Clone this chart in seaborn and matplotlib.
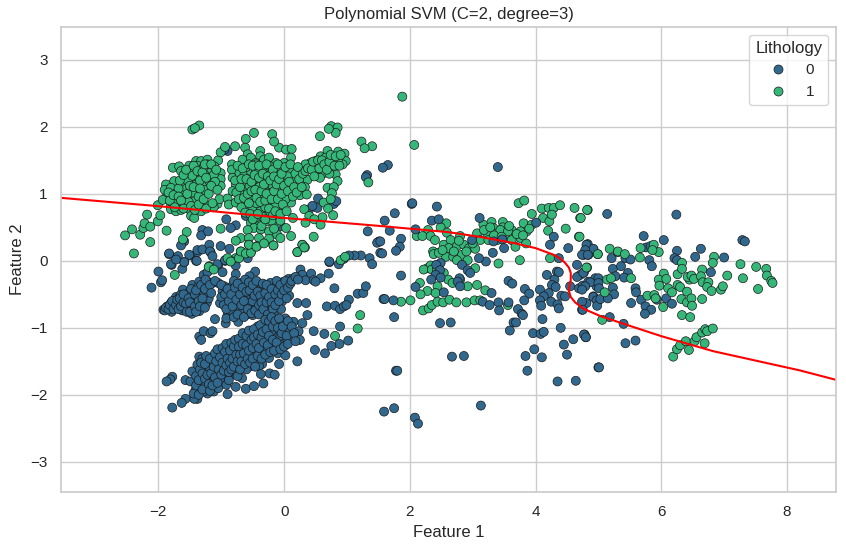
import matplotlib
matplotlib.use("Agg")
import matplotlib.pyplot as plt
import pandas as pd
import seaborn as sns

# --- Lithology 0 (blue) ---
blue_upper_band = [
(-2.0,-0.16),(-2.11,-0.40),(-1.96,-0.32),(-1.94,-0.29),(-1.83,0.10),(-1.79,-0.06),(-1.71,0.04),(-1.62,-0.12),(-1.59,-0.02),(-1.50,0.08),
(-1.40,0),(-1.38,0.13),(-1.17,0.13),(-1.05,-0.07),(-0.98,-0.17),(-0.94,0),(-0.77,-0.07),(-0.77,-0.20),(-0.46,-0.16),(-0.55,-0.23),
(-1.92,-0.73),(-1.90,-0.74),(-1.86,-0.68),(-1.80,-0.63),(-1.72,-0.54),(-1.61,-0.43),(-1.46,-0.36),(-1.35,-0.31),(-1.28,-0.21),(-1.22,-0.17),
(-1.79,-0.76),(-1.67,-0.63),(-1.57,-0.71),(-1.47,-0.79),(-1.35,-0.75),(-1.54,-0.61),(-1.40,-0.63),(-1.23,-0.63),(-1.20,-0.56),(-1.35,-0.53),
(-1.46,-0.51),(-1.57,-0.56),(-1.65,-0.51),(-1.46,-0.46),(-1.33,-0.43),(-1.22,-0.43),(-1.14,-0.33),(-1.05,-0.33),(-1.22,-0.31),(-1.75,-0.69),
(-1.62,-0.74),(-1.50,-0.70),(-1.44,-0.58),(-1.30,-0.66),(-1.28,-0.50),(-1.52,-0.48),(-1.38,-0.40),(-1.70,-0.62),(-1.45,-0.74),(-1.30,-0.36),
(-1.02,-0.63),(-0.90,-0.56),(-0.83,-0.38),(-0.69,-0.33),(-0.59,-0.38),(-0.46,-0.43),(-0.35,-0.38),(-0.22,-0.33),(-0.11,-0.32),(-0.03,-0.32),
(0.07,-0.27),(0.15,-0.26),(0.26,-0.13),(0.29,-0.21),(0.34,-0.29),(0.43,-0.19),(0.47,-0.29),(0.58,-0.26),(0.71,-0.19),(0.72,-0.02),(0.50,-0.31),
(-0.72,-0.46),(-0.59,-0.51),(-0.31,-0.52),(-0.16,-0.46),(-0.03,-0.60),(0.08,-0.52),(-0.16,-0.56),(-0.27,-0.56),(-0.40,-0.53),(-0.53,-0.56),
(-0.67,-0.56),(-0.85,-0.66),(-0.72,-0.63),(-0.59,-0.67),(-0.43,-0.66),(-0.30,-0.71),(-0.11,-0.71),(-0.90,-0.81),(-0.76,-0.73),(-0.61,-0.81),
(-0.50,-0.81),(-0.32,-0.81),(-0.16,-0.79),(-0.05,-0.72),(-1.10,-0.87),(-0.93,-0.93),(-0.73,-0.91),(-0.84,-0.74),(-0.66,-0.74),(-0.50,-0.70),
(-0.38,-0.74),(-0.22,-0.68),(-0.08,-0.50),(-0.24,-0.44),(-0.36,-0.46),(-0.48,-0.50),(-0.62,-0.43),(-0.78,-0.52),(-0.92,-0.86),(-0.80,-0.84),
(-0.56,-0.74),(-0.24,-0.74),(-0.12,-0.38),(-0.05,-0.42),(0.02,-0.38),(-0.30,-0.42),(-0.42,-0.60),(-0.54,-0.62),(-0.80,-0.62),(-0.98,-0.45),
(-0.86,-0.46),(-0.95,-0.38),(-0.80,-0.30),(-0.62,-0.28),
# dense fill
(-1.88,-0.70),(-1.84,-0.72),(-1.82,-0.66),(-1.78,-0.60),(-1.76,-0.72),(-1.72,-0.66),(-1.70,-0.58),(-1.68,-0.72),(-1.66,-0.56),(-1.64,-0.68),
(-1.60,-0.62),(-1.60,-0.50),(-1.56,-0.64),(-1.55,-0.76),(-1.52,-0.56),(-1.50,-0.62),(-1.50,-0.76),(-1.48,-0.42),(-1.42,-0.68),(-1.42,-0.50),
(-1.40,-0.76),(-1.40,-0.44),(-1.36,-0.60),(-1.34,-0.68),(-1.32,-0.36),(-1.30,-0.56),(-1.26,-0.70),(-1.26,-0.42),(-1.25,-0.28),(-1.18,-0.36),
(-1.16,-0.48),(-1.10,-0.30),(-1.00,-0.36),(-1.00,-0.54),(-0.96,-0.66),(-0.94,-0.50),(-0.92,-0.72),(-0.90,-0.42),(-0.88,-0.60),(-0.84,-0.50),
(-0.82,-0.68),(-0.78,-0.40),(-0.76,-0.58),(-0.74,-0.34),(-0.74,-0.80),(-0.70,-0.50),(-0.68,-0.66),(-0.66,-0.40),(-0.64,-0.84),(-0.64,-0.60),
(-0.60,-0.46),(-0.58,-0.72),(-0.56,-0.32),(-0.55,-0.44),(-0.52,-0.78),(-0.50,-0.60),(-0.50,-0.36),(-0.47,-0.52),(-0.46,-0.74),(-0.44,-0.30),
(-0.42,-0.46),(-0.40,-0.66),(-0.40,-0.80),(-0.38,-0.52),(-0.36,-0.62),(-0.34,-0.34),(-0.33,-0.72),(-0.30,-0.48),(-0.28,-0.62),(-0.28,-0.36),
(-0.26,-0.80),(-0.24,-0.54),(-0.20,-0.42),(-0.20,-0.62),(-0.18,-0.72),(-0.14,-0.50),(-0.14,-0.66),(-0.12,-0.30),(-0.10,-0.44),(-0.08,-0.60),
(-0.06,-0.36),(-0.04,-0.50),(0.00,-0.44),(0.02,-0.30),(0.04,-0.56),(0.06,-0.40),(0.10,-0.34),(0.12,-0.30),(0.18,-0.24),(0.22,-0.28),
]
blue_lower_band = [
(-1.38,-2.06),(-1.43,-2.06),(-1.22,-1.98),(-1.33,-1.88),(-1.41,-1.93),(-1.46,-1.65),(-1.38,-1.55),(-1.35,-1.43),(-1.22,-1.50),(-1.12,-1.43),
(-1.01,-1.35),(-0.88,-1.30),(-0.75,-1.23),(-0.61,-1.15),(-0.51,-1.10),(-0.40,-1.05),(-0.32,-0.93),(0.02,-0.86),(0.15,-0.91),(-0.10,-0.93),
(-0.22,-0.96),(-0.32,-1.03),(-0.11,-1.05),(0.02,-0.99),(0.29,-0.93),(0.23,-1.05),(0.25,-1.18),(0.10,-1.13),(0,-1.20),(-0.11,-1.15),
(-0.22,-1.23),(-0.30,-1.10),(-0.40,-1.18),(-0.53,-1.28),(-0.67,-1.33),(-0.80,-1.40),(-0.93,-1.48),(-1.06,-1.55),(-1.22,-1.63),(-1.33,-1.73),
(-1.17,-1.73),(-1.04,-1.68),(-0.90,-1.60),(-0.77,-1.53),(-0.64,-1.45),(-0.51,-1.40),(-0.35,-1.38),(-0.27,-1.35),(-0.10,-1.38),(0.02,-1.41),
(-0.08,-1.54),(0.21,-1.50),(-0.35,-1.54),(-0.40,-1.57),(-0.53,-1.57),(-0.69,-1.55),(-0.83,-1.55),(-0.98,-1.60),(-0.37,-1.69),(-0.23,-1.68),
(-0.15,-1.70),(-0.67,-1.75),(-0.85,-1.70),(-1.04,-1.84),(-1.22,-1.90),(-1.12,-1.80),(-0.77,-1.88),(-0.61,-1.91),(-0.48,-1.87),(-0.33,-1.83),
(-0.90,-1.99),(-1.12,-1.95),(-1.57,-1.78),(-1.49,-1.80),(-1.35,-1.83),(-1.78,-1.73),(-1.81,-1.77),(-1.87,-1.80),(-1.57,-2.06),(-1.63,-2.12),
(-1.78,-2.19),(-1.35,-1.13),(-1.32,-1.18),(-1.28,-1.05),(-1.17,-1.08),(-1.14,-1.05),
(-1.28,-1.60),(-1.30,-1.46),(-1.15,-1.55),(-1.10,-1.65),(-0.95,-1.75),(-0.82,-1.42),(-0.70,-1.24),(-0.56,-1.20),(-0.46,-1.22),(-0.34,-1.26),
(-0.28,-1.15),(-0.16,-1.28),(-0.06,-1.25),(-0.16,-1.08),(-0.04,-0.92),(0.08,-1.02),(-0.24,-1.45),(-0.44,-1.32),(-0.58,-1.38),(-0.72,-1.44),
(-0.88,-1.40),(-1.00,-1.48),(-1.15,-1.78),(-1.25,-1.83),(-1.28,-1.95),(-1.38,-1.95),(-1.05,-1.90),(-0.92,-1.85),(-0.78,-1.66),(-0.60,-1.62),
(-0.46,-1.48),(-0.66,-1.16),(-0.52,-1.06),(-0.42,-0.98),(-0.20,-1.04),(-0.06,-1.12),(-0.30,-1.32),(-0.46,-1.38),(-0.62,-1.30),(-0.76,-1.34),
(-0.96,-1.40),(-1.08,-1.46),(-1.18,-1.62),(-1.02,-1.76),(-0.88,-1.78),(-0.74,-1.72),
# dense fill
(-1.44,-1.98),(-1.40,-1.86),(-1.40,-1.72),(-1.36,-2.00),(-1.36,-1.78),(-1.34,-1.62),(-1.32,-1.52),(-1.30,-1.92),(-1.30,-1.68),(-1.26,-1.76),
(-1.26,-1.54),(-1.24,-1.42),(-1.22,-1.70),(-1.20,-1.84),(-1.18,-1.46),(-1.18,-1.94),(-1.16,-1.68),(-1.14,-1.86),(-1.12,-1.58),(-1.10,-1.38),
(-1.10,-1.74),(-1.08,-1.50),(-1.06,-1.82),(-1.06,-1.32),(-1.04,-1.62),(-1.02,-1.44),(-1.00,-1.70),(-0.98,-1.52),(-0.98,-1.30),(-0.96,-1.64),
(-0.94,-1.36),(-0.92,-1.56),(-0.92,-1.24),(-0.90,-1.46),(-0.88,-1.66),(-0.86,-1.34),(-0.86,-1.52),(-0.84,-1.22),(-0.84,-1.62),(-0.82,-1.46),
(-0.80,-1.28),(-0.80,-1.58),(-0.78,-1.18),(-0.76,-1.40),(-0.74,-1.50),(-0.72,-1.16),(-0.72,-1.28),(-0.70,-1.40),(-0.70,-1.62),(-0.68,-1.50),
(-0.66,-1.08),(-0.66,-1.24),(-0.64,-1.38),(-0.62,-1.54),(-0.60,-1.12),(-0.60,-1.26),(-0.58,-1.46),(-0.56,-1.04),(-0.56,-1.34),(-0.54,-1.52),
(-0.52,-1.18),(-0.50,-1.30),(-0.50,-1.46),(-0.48,-1.02),(-0.48,-1.14),(-0.46,-1.58),(-0.44,-1.24),(-0.42,-1.42),(-0.42,-1.10),(-0.40,-1.30),
(-0.38,-0.96),(-0.36,-1.14),(-0.36,-1.46),(-0.34,-1.06),(-0.32,-1.22),(-0.30,-0.88),(-0.30,-1.40),(-0.28,-1.02),(-0.26,-1.26),(-0.24,-0.90),
(-0.24,-1.12),(-0.22,-1.36),(-0.20,-0.84),(-0.18,-1.18),(-0.18,-0.98),(-0.16,-1.34),(-0.14,-0.90),(-0.12,-1.22),(-0.10,-1.00),(-0.08,-0.86),
(-0.06,-1.32),(-0.04,-1.08),(-0.02,-0.98),(0.00,-1.28),(0.04,-1.12),(0.06,-0.90),(0.06,-1.24),(0.12,-0.98),(0.16,-1.08),(0.18,-1.20),
]
blue_left_sparse = [
(0.54,0.93),(0.79,0.85),(0.83,0.89),(0.40,0.77),(0.53,0.79),(0.45,0.82),(-0.90,1.64),(-0.95,1.66),(-1.75,1.14),(-0.92,0.62),(-0.77,0.53),(-0.85,0.49),
(-0.61,0.67),(-0.05,0.52),(-1.30,0.46),(-1.32,0.38),(-1.21,0.44),(-1.59,0.29),(-1.64,0.23),(-1.01,0.22),(-0.87,0.18),(-1.83,0.11),(-1.69,0.07),
(-1.51,0.09),(-1.38,0.16),(-1.30,0.17),(-1.19,0.24),(-1.18,0.14),(-1.14,0.07),(-1.39,0.0),(-1.59,-0.02),(-1.80,-0.05),(-1.72,0.02),(-1.06,-0.05),
(-0.94,0.01),(-0.58,0.04),(0.72,-0.01),(1.36,0.04),(1.40,-0.05),(1.22,0.08),(1.12,0.08),(1.03,0.08),(0.95,0.03),(0.87,-0.05),
(1.32,1.28),(1.33,0.44),(1.51,0.29),(1.48,0.27),(1.53,0.12),(1.65,1.43),(1.57,1.39),(1.30,1.25),(2.03,0.85),
(0.80,-0.41),(0.68,-0.68),(0.81,-0.67),(0.89,-0.72),(0.95,-0.68),(1.03,-0.58),(1.17,-0.49),(1.26,-0.48),(1.30,-0.38),(0.99,-0.66),(1.58,-0.57),
(0.21,-0.63),(0.35,-0.63),(0.37,-0.81),(0.89,-0.98),(0.64,-1.09),(0.47,-1.05),(1.02,-1.19),(0.88,-1.24),(0.75,-1.27),(0.49,-1.33),(0.65,-1.38),
(1.59,-2.25),(1.75,-2.20),(2.08,-2.34),(2.13,-2.43),(3.13,-2.16),(1.78,-1.64),(3.40,1.40),
]
blue_middle = [
(2.04,0.86),(2.43,0.81),(1.76,0.71),(1.60,0.60),(1.68,0.45),(2.35,0.60),(2.46,0.62),(2.09,0.47),(1.86,0.33),(1.53,0.29),(1.84,0.21),(1.78,0.15),
(1.56,0.11),(3.11,0.64),(4.01,0.57),(4.29,0.36),(4.23,0.24),(4.52,0.19),(4.83,0.25),(4.92,0.17),(4.77,0.09),(4.84,0.09),(4.37,0.04),(2.99,0.31),
(3.47,0.32),(3.33,0.29),(3.50,0.19),(3.32,0.12),(3.21,-0.01),(3.10,0.04),(2.83,-0.06),(2.92,-0.14),(2.96,-0.18),(2.49,-0.03),(2.42,-0.06),
(2.48,-0.14),(2.41,-0.21),(2.49,-0.25),(2.34,-0.28),(1.86,-0.22),(2.79,-0.26),(2.76,-0.31),(2.80,-0.38),(2.09,-0.39),(2.54,-0.47),(3.30,-0.48),
(3.57,-0.30),(3.63,-0.34),(3.83,-0.42),(3.90,-0.49),(3.82,-0.59),(1.60,-0.57),(1.74,-0.59),(3.16,-0.61),(3.27,-0.66),(3.41,-0.62),(3.57,-0.62),
(3.42,-0.74),(3.72,-0.72),(3.78,-0.79),(3.80,-0.81),(1.75,-0.84),(2.48,-0.93),(2.65,-0.92),(3.65,-0.92),(3.69,-0.92),(3.59,-1.04),(4.11,-0.87),
(3.96,-1.08),(4.08,-1.09),(4.13,-1.06),(4.40,-1.0),(3.98,-1.32),(3.84,-1.42),(4.10,-1.44),(3.87,-1.64),(2.67,-1.43),(2.86,-1.42),(1.80,-1.64),
(4.35,-1.80),(4.64,-1.79),(4.45,-1.25),(4.60,-1.17),(4.78,-1.10),(4.80,-1.14),(4.50,-1.40),(5.0,-1.59),
(4.18,-0.21),(4.34,-0.16),(4.37,-0.17),(4.30,-0.28),(4.26,-0.36),(4.32,-0.39),(4.07,-0.43),(4.21,-0.48),(4.13,-0.53),(4.07,-0.59),(4.09,-0.67),
(4.25,-0.61),(4.35,-0.65),(4.37,-0.71),(4.41,-0.52),(4.47,-0.53),(4.66,-0.06),(4.71,-0.21),(4.77,-0.17),(4.66,-0.24),(4.55,-0.38),(4.69,-0.41),
(4.75,-0.37),(4.84,-0.31),(4.95,-0.26),(4.97,-0.38),(4.92,-0.53),(5.0,-0.59),(4.74,-0.73),(4.81,-0.63),
]
blue_right = [
(5.14,0.70),(6.24,0.69),(5.72,0.37),(6.04,0.31),(7.29,0.31),(7.33,0.29),(6.63,0.18),(6.54,0.06),(7.0,0.05),(6.25,0.15),(6.21,0.04),(6.25,0.01),
(6.79,-0.17),(5.76,0.20),(5.83,0.22),(5.81,0.01),(5.85,-0.08),(4.81,0.24),(4.92,0.18),(4.79,0.16),(4.74,0.09),(4.83,0.09),(5.21,0.04),(5.31,0.13),
(5.43,0.04),(5.51,0.02),(5.23,-0.12),(5.36,-0.08),(5.47,-0.18),(5.27,-0.23),(5.41,-0.25),(5.0,-0.26),(4.87,-0.32),(4.76,-0.18),(5.0,-0.33),
(5.01,-0.41),(5.23,-0.40),(5.25,-0.50),(4.79,-0.38),(4.74,-0.43),(4.92,-0.54),(4.97,-0.59),(4.98,-0.67),(5.03,-0.57),(5.15,-0.56),(4.74,-0.61),
(4.75,-0.73),(5.18,-0.84),(5.40,-0.94),(5.52,-0.63),(5.59,-0.41),(5.60,-0.47),(5.68,-0.58),(5.75,-0.68),(5.84,-0.73),(5.74,-0.79),(5.93,-0.58),
(6.08,-0.56),(6.17,-0.64),(4.77,-1.10),(4.80,-1.14),(5.43,-1.23),(5.59,-1.19),(5.01,-1.59),
]

# --- Lithology 1 (green) ---
green_left = [
(-2.53,0.38),(-2.42,0.47),(-2.29,0.39),(-2.24,0.49),(-2.22,0.56),(-2.13,0.51),(-2.18,0.69),(-2.01,0.59),(-1.97,0.68),(-2.01,0.83),(-2.13,0.28),
(-2.39,0.11),(-1.87,0.45),(-1.55,0.43),(-1.61,0.32),(-1.46,1.96),(-1.35,2.02),(-1.42,1.98),
(-1.77,1.39),(-1.67,1.41),(-1.64,1.34),(-1.51,1.42),(-1.40,1.49),(-1.32,1.49),(-1.22,1.51),(-1.05,1.50),(-1.01,1.62),(-0.94,1.70),(-0.78,1.71),
(-1.51,1.31),(-1.43,1.34),(-1.32,1.39),(-1.19,1.36),(-1.11,1.41),(-1.01,1.31),(-1.48,1.21),(-1.38,1.26),(-1.27,1.29),(-1.17,1.24),(-1.01,1.22),
(-1.01,1.12),(-1.75,1.19),(-1.88,1.14),(-1.90,1.06),(-1.80,1.09),(-1.59,1.14),(-1.53,1.19),(-1.40,1.14),(-1.27,1.14),(-1.19,1.19),(-1.72,1.01),
(-1.61,1.01),(-1.40,1.04),(-1.27,1.06),(-1.88,0.94),(-1.72,0.92),(-1.56,0.94),(-1.43,0.89),(-1.58,0.84),(-1.80,0.82),(-1.66,0.82),(-1.80,0.77),
(-1.72,0.74),(-1.93,0.91),(-1.32,0.79),(-1.21,0.82),(-1.06,0.85),(-1.03,0.92),(-1.51,0.77),(-1.48,0.67),(-1.43,0.64),(-1.32,0.74),(-0.90,0.93),(-0.88,0.84),
(-1.46,1.27),(-1.34,1.20),(-1.22,1.44),(-1.12,1.28),(-1.55,1.08),(-1.46,1.02),(-1.68,1.08),(-1.36,0.96),(-1.76,0.88),(-1.64,0.76),(-1.12,0.80),
(-1.38,1.42),(-1.28,1.40),(-1.10,1.18),(-1.52,0.88),
(-0.83,1.44),(-0.83,1.36),(-0.82,1.24),(-0.71,1.31),(-0.63,1.29),(-0.53,1.34),(-0.62,1.69),(-0.58,1.59),(-0.66,1.51),(-0.53,1.54),(-0.38,1.64),
(-0.38,1.56),(-0.45,1.46),(-0.32,1.51),(-0.24,1.54),(-0.13,1.46),(-0.08,1.69),(0.03,1.66),(0.12,1.67),(0.11,1.54),(0,1.46),(-0.45,1.34),(-0.32,1.36),
(-0.21,1.29),(-0.11,1.34),(0,1.34),(0.12,1.32),(0.29,1.39),(-0.63,1.16),(-0.48,1.21),(-0.37,1.19),(-0.26,1.14),(-0.13,1.21),(0,1.19),(0.16,1.21),
(0.37,1.21),(-0.77,1.14),(-0.61,1.06),(-0.42,1.01),(-0.21,1.01),(-0.08,1.06),(0.11,1.06),(0.33,1.10),(-0.82,1.04),(-0.69,0.99),(-0.48,0.92),
(-0.26,0.89),(-0.08,0.89),(0.11,0.87),(0.25,0.98),(0.36,0.99),(-0.77,0.87),(-0.63,0.84),(-0.37,0.82),(-0.21,0.74),(-0.05,0.77),(0.05,0.97),
(-0.50,0.77),(-0.38,0.74),(-0.26,0.67),(-0.11,0.67),(0.14,0.64),(-0.26,0.59),(-0.40,0.57),(-0.53,0.57),(-0.13,0.54),(0.03,0.49),(-0.48,0.49),
(-0.58,0.46),(-0.37,0.47),(-0.24,0.44),(-0.11,0.39),(0.11,0.37),(-0.69,0.34),(-0.56,0.34),(-0.40,0.34),(-0.24,0.33),(-0.06,0.34),(-0.77,0.30),
(-0.56,0.24),(-0.43,0.22),(-0.17,0.23),(-0.69,0.14),(-0.53,0.13),(-0.77,0.04),(-0.85,0.0),(-1.01,0.48),(0.47,0.36),(0.29,0.24),(0.33,0.20),(0.21,0.13),(-1.19,-0.08),
(-0.55,1.12),(-0.40,1.10),(-0.30,1.24),(-0.18,1.12),(-0.05,1.10),(0.06,1.26),(-0.56,0.96),(-0.34,0.96),(-0.14,0.96),(0.02,0.92),(-0.44,0.86),
(-0.30,0.80),(-0.14,0.82),(-0.46,0.64),(-0.34,0.66),(-0.20,0.60),(-0.06,0.60),(-0.44,1.44),(-0.24,1.42),(-0.06,1.40),(-0.60,1.40),(-0.16,0.48),
(0.42,1.46),(0.50,1.49),(0.58,1.56),(0.69,1.64),(0.86,1.63),(0.96,1.60),(0.98,1.49),(0.93,1.44),(0.79,1.51),(0.69,1.44),(0.58,1.44),(0.34,1.44),
(0.53,1.34),(0.82,1.29),(0.63,1.31),(0.57,1.24),(0.85,1.19),(0.69,1.09),(0.79,1.10),(0.76,1.01),(0.63,0.87),(0.74,0.92),(0.32,0.77),(0.40,0.67),
(0.61,0.65),(0.48,0.62),(0.34,0.57),(0.58,0.54),(0.70,0.78),(0.78,0.68),(0.76,1.40),(0.86,1.52),(0.66,1.54),(0.72,1.30),
(-0.61,1.82),(-0.48,1.91),(-0.19,1.89),(-0.16,1.78),(0.57,1.86),(0.75,2.01),(0.85,1.99),(0.82,1.91),(0.71,1.97),(1.23,1.78),(1.40,1.71),(1.28,1.68),
(1.34,1.17),(2.07,1.73),(1.88,2.45),
(-1.74,-0.21),(-1.20,-0.09),(-1.12,-0.13),(1.21,-0.81),(1.17,-1.01),(0.81,-1.12),(0.90,0.01),(0.97,0.06),(-0.90,0.04),(-0.85,-0.01),(-0.72,0.04),
(-0.69,0.14),(-0.61,0.11),(-0.53,0.12),(-0.56,0.24),(-0.44,0.21),(-0.32,0.26),(-0.17,0.23),(0.21,0.13),(0.29,0.24),(0.32,0.20),
# dense fill
(-1.84,1.02),(-1.82,0.90),(-1.76,0.98),(-1.74,0.80),(-1.68,0.96),(-1.66,1.20),(-1.64,0.90),(-1.60,1.28),(-1.60,0.78),(-1.56,1.36),(-1.54,1.00),
(-1.50,1.12),(-1.48,0.82),(-1.44,1.42),(-1.44,1.10),(-1.42,0.76),(-1.38,1.34),(-1.36,0.84),(-1.34,1.08),(-1.30,1.32),(-1.28,0.92),(-1.26,1.44),
(-1.24,1.24),(-1.24,0.78),(-1.20,1.00),(-1.16,1.44),(-1.16,1.12),(-1.14,0.86),(-1.08,1.36),(-1.06,1.06),(-0.78,1.20),(-0.76,1.02),(-0.74,1.42),
(-0.72,0.92),(-0.70,1.10),(-0.68,1.22),(-0.68,0.80),(-0.66,1.38),(-0.64,0.94),(-0.62,0.72),(-0.60,1.22),(-0.58,1.00),(-0.56,0.86),(-0.56,1.44),
(-0.54,0.70),(-0.52,1.18),(-0.52,1.04),(-0.50,1.42),(-0.50,0.62),(-0.47,1.28),(-0.46,1.06),(-0.44,0.94),(-0.42,0.70),(-0.40,1.24),(-0.40,1.42),
(-0.38,0.88),(-0.36,1.04),(-0.36,0.52),(-0.34,1.30),(-0.32,1.14),(-0.30,0.90),(-0.30,0.62),(-0.28,1.00),(-0.28,1.44),(-0.26,1.26),(-0.24,0.78),
(-0.22,1.20),(-0.20,0.92),(-0.18,1.36),(-0.18,0.68),(-0.16,1.04),(-0.16,1.26),(-0.14,0.74),(-0.12,1.14),(-0.10,0.92),(-0.10,1.44),(-0.08,1.22),
(-0.06,0.70),(-0.04,1.00),(-0.04,1.30),(-0.02,0.84),(0.00,1.12),(0.02,1.40),(0.04,0.74),(0.06,1.04),(0.08,1.18),(0.10,1.44),(0.14,0.96),
(0.16,1.10),(0.18,1.30),(0.20,1.02),(0.22,1.40),(0.24,1.22),(0.28,1.10),(0.30,1.30),(0.34,1.34),(0.38,1.38),(0.44,1.36),(0.46,1.48),(0.48,1.26),
(0.54,1.50),(0.56,1.38),(0.60,1.50),(0.64,1.44),(0.68,1.36),(0.72,1.48),(0.74,1.58),(0.80,1.42),(0.82,1.56),(0.88,1.42),(0.90,1.58),
]
green_middle = [
(3.73,0.86),(3.82,0.90),(4.10,0.78),(4.21,0.79),(4.29,0.79),(4.39,0.83),(4.62,0.79),(4.83,0.76),(4.71,0.64),(3.94,0.70),(3.81,0.56),(4.12,0.64),
(4.22,0.59),(4.26,0.69),(4.48,0.48),(4.20,0.45),(4.69,0.36),(4.23,0.04),(3.75,0.01),(3.41,-0.04),(4.82,-0.10),(4.99,0.10),
(2.58,0.56),(2.49,0.50),(2.29,0.46),(2.59,0.42),(2.11,0.37),(2.20,0.37),(2.33,0.37),(2.40,0.31),(2.54,0.24),(2.65,0.31),(2.80,0.37),(2.62,0.19),
(2.75,0.22),(2.86,0.24),(2.94,0.19),(3.04,0.18),(2.37,0.14),(2.38,0.10),(2.57,0.06),(2.69,0.06),(2.83,0.09),(2.92,0.01),(2.75,0.01),
(3.07,0.41),(3.17,0.54),(3.30,0.58),(3.33,0.49),(3.48,0.58),(3.48,0.50),(3.62,0.46),(3.23,0.41),(3.39,0.41),(3.52,0.34),(3.62,0.31),(3.76,0.34),
(3.86,0.44),(3.94,0.54),(3.76,0.44),(3.85,0.26),(3.68,0.21),(3.12,0.31),(3.25,0.31),(3.39,0.31),(3.04,-0.11),
(2.28,-0.11),(2.33,-0.07),(2.22,-0.13),(2.35,-0.13),(2.43,-0.13),(2.16,-0.33),(2.54,-0.18),(2.61,-0.28),(2.80,-0.28),(2.92,-0.38),(3.07,-0.36),
(3.20,-0.44),(2.44,-0.38),(2.68,-0.33),(2.28,-0.45),(2.17,-0.50),(2.41,-0.48),(1.86,-0.61),(2.01,-0.59),(2.21,-0.74),(2.30,-0.71),(2.35,-0.66),
(2.44,-0.61),(2.53,-0.62),(2.63,-0.58),(2.74,-0.62),(2.90,-0.62),(3.03,-0.59),(3.12,-0.59),(3.56,-0.66),
(2.46,0.12),(2.52,0.16),(2.70,0.14),(2.78,0.30),(2.90,0.14),(3.00,0.26),(3.18,0.46),(3.28,0.50),(3.44,0.46),(3.56,0.44),(3.70,0.40),(3.80,0.38),
(3.58,0.52),(3.34,0.38),(3.46,0.36),(3.90,0.48),
]
green_right = [
(4.82,0.76),(4.72,0.64),(4.70,0.36),(4.99,0.10),(5.18,0.18),(5.31,0.14),(5.42,0.10),(5.67,0.19),(5.66,0.05),(5.88,0.24),(5.96,0.13),(5.86,0.16),
(4.81,-0.10),(5.14,-0.28),(5.20,-0.26),(5.52,-0.26),(5.10,-0.47),(5.06,-0.88),(5.78,-0.52),(5.89,-0.51),(5.91,-0.56),(6.03,-0.69),
(6.04,-0.19),(5.96,-0.28),(5.97,-0.37),(6.08,-0.27),(6.11,-0.41),(6.17,-0.47),(6.26,-0.20),(6.33,-0.03),(6.33,-0.12),(6.26,-0.36),(6.30,-0.39),
(6.41,-0.46),(6.45,-0.28),(6.42,-0.24),(6.48,-0.22),(6.52,-0.27),(6.32,-0.57),(6.41,-0.62),(6.48,-0.56),(6.49,-0.67),(6.65,-0.57),(6.65,-0.13),
(6.63,-0.23),(6.66,-0.32),(6.75,-0.32),(6.73,-0.39),(6.80,-0.45),(6.95,-0.43),(6.98,-0.38),(7.05,-0.22),(6.84,0.06),(6.82,-0.03),(7.26,-0.05),
(7.30,-0.26),(7.51,-0.09),(7.67,-0.12),(7.68,-0.22),(7.75,-0.30),(7.77,-0.33),(7.54,-0.42),(6.33,-0.81),(6.46,-0.84),
(6.19,-1.43),(6.25,-1.32),(6.30,-1.26),(6.39,-1.20),(6.44,-1.33),(6.53,-1.20),(6.56,-1.14),(6.69,-1.23),(6.65,-1.07),(6.70,-1.02),(6.73,-1.05),(6.82,-1.01),
]

boundary_x = [-3.55,-2.0,0.0,1.53,2.0,2.6,3.12,3.65,4.0,4.29,4.38,4.46,4.53,4.56,4.56,4.54,4.53,4.56,4.63,4.76,5.03,5.39,6.0,6.82,8.2,8.78]
boundary_y = [0.94,0.816,0.64,0.52,0.48,0.43,0.357,0.266,0.19,0.09,0.04,-0.02,-0.10,-0.18,-0.29,-0.37,-0.45,-0.54,-0.62,-0.714,-0.824,-0.936,-1.124,-1.347,-1.634,-1.776]

groups = [(blue_upper_band,0),(blue_lower_band,0),(blue_left_sparse,0),(green_left,1),
          (green_middle,1),(blue_middle,0),(blue_right,0),(green_right,1)]
rows = [(x,y,lab) for pts,lab in groups for x,y in pts]
df = pd.DataFrame(rows, columns=["Feature 1","Feature 2","Lithology"])

sns.set_theme(style="whitegrid")
plt.rcParams["font.family"] = ["Liberation Sans", "DejaVu Sans"]
fig = plt.figure(figsize=(8.46,5.5), dpi=100)
ax = fig.add_axes([61/846, 1-492/550, 775/846, 465/550])
sns.scatterplot(data=df, x="Feature 1", y="Feature 2", hue="Lithology", palette="viridis",
                s=42, edgecolor="k", linewidth=0.5, alpha=1, ax=ax)
ax.plot(boundary_x, boundary_y, color="red", lw=1.5)
ax.set_xlim(-3.55, 8.78)
ax.set_ylim(-3.45, 3.49)
ax.set_title("Polynomial SVM (C=2, degree=3)")
sns.move_legend(ax, "upper right", title="Lithology")
fig.savefig("out.png", dpi=100)
